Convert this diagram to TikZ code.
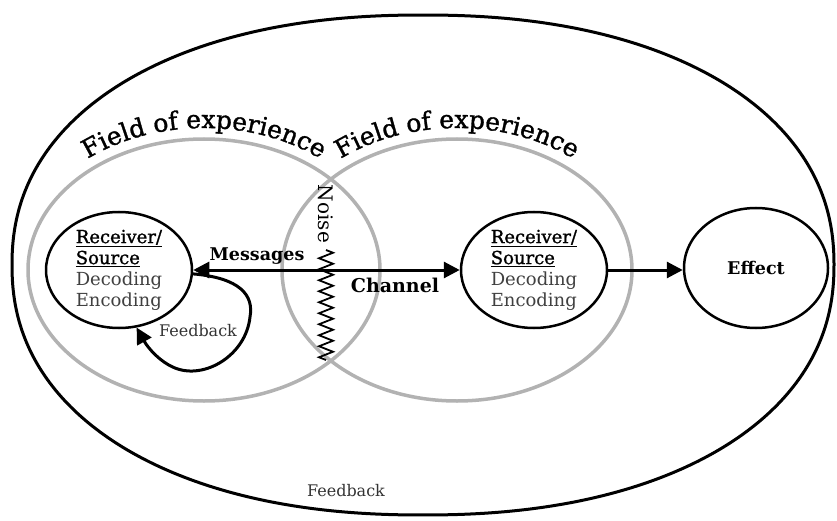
\documentclass[tikz,border=0pt]{standalone}
\usepackage{fontspec}
\setmainfont{DejaVu Serif}
\newfontfamily\semib[FakeBold=1.3]{DejaVu Serif}
\usetikzlibrary{arrows.meta,shapes.geometric,decorations.text,decorations.pathmorphing}
\newcommand\fieldfont{\semib\fontsize{25}{29}\selectfont}
\begin{document}
\begin{tikzpicture}[x=1pt,y=1pt,
  outer/.style={line width=3pt},
  field/.style={draw=black!30, line width=3.5pt},
  nodeell/.style={draw, ellipse, line width=2.5pt, inner sep=0pt,
    minimum width=146pt, minimum height=116pt, align=left,
    font=\fontsize{18}{21}\selectfont},
  arr/.style={line width=3pt, -{Triangle[length=16pt,width=16pt]}},
  darr/.style={line width=3pt, {Triangle[length=16pt,width=16pt]}-{Triangle[length=16pt,width=16pt]}},
  lbl/.style={inner sep=0pt},
  fieldtext/.style={decorate, decoration={text along path, text align=center,
    text={|\fieldfont|Field of experience}}}
]
\useasboundingbox (0,0) rectangle (837,520);
% outer boundary (slightly squarish ellipse)
\draw[outer] plot[domain=0.7:359.7, samples=240, smooth cycle, variable=\t]
  ({423+411*cos(\t)*(abs(cos(\t))+0.00001)^(-0.0909)},
   {255+250*sin(\t)*(abs(sin(\t))+0.00001)^(-0.0909)});
% fields of experience
\draw[field] (204,250) ellipse[x radius=176, y radius=131];
\draw[field] (457,250) ellipse[x radius=175, y radius=131];
\path[fieldtext] (204,250) ++(180:187 and 142) arc[start angle=180, end angle=0, x radius=187, y radius=142];
\path[fieldtext] (457,250) ++(180:187 and 142) arc[start angle=180, end angle=0, x radius=187, y radius=142];
% nodes
\node[nodeell] (L) at (119,250) {\underline{\semib Receiver/}\\\underline{\semib Source}\\{\color{black!75}Decoding}\\{\color{black!75}Encoding}};
\node[nodeell] (R) at (534,250) {\underline{\semib Receiver/}\\\underline{\semib Source}\\{\color{black!75}Decoding}\\{\color{black!75}Encoding}};
\node[nodeell, minimum width=144pt, minimum height=120pt, font=\bfseries\fontsize{17.5}{20}\selectfont] (E) at (756,252) {Effect};
% connectors
\draw[darr] (L.east) -- (R.west);
\draw[arr] (R.east) -- (R.east -| E.west);
\draw[arr] (L.-3) .. controls (240,242) and (254,225) .. (250,203)
  .. controls (246,165) and (205,140) .. (175,152)
  .. controls (160,158) and (148,172) .. (L.-73);
% labels
\node[lbl, font=\bfseries\fontsize{17.5}{20}\selectfont] (msg) at (257,264) {Messages};
\node[lbl, font=\bfseries\fontsize{19}{22}\selectfont] (chan) at (395,235) {Channel};
\node[lbl, rotate=-90, font=\fontsize{20}{24}\selectfont] (noise) at (326,306) {Noise};
\coordinate (z1) at (326,270);
\coordinate (z2) at (326,160);
\draw[line width=1.8pt, decorate, decoration={zigzag, segment length=11pt, amplitude=7pt}] (z1) -- (z2);
\node[lbl, text=black!80, font=\fontsize{16}{19}\selectfont] (fb1) at (198,189) {Feedback};
\node[lbl, text=black!80, font=\fontsize{16}{19}\selectfont] (fb2) at (346,29) {Feedback};
\end{tikzpicture}
\end{document}
